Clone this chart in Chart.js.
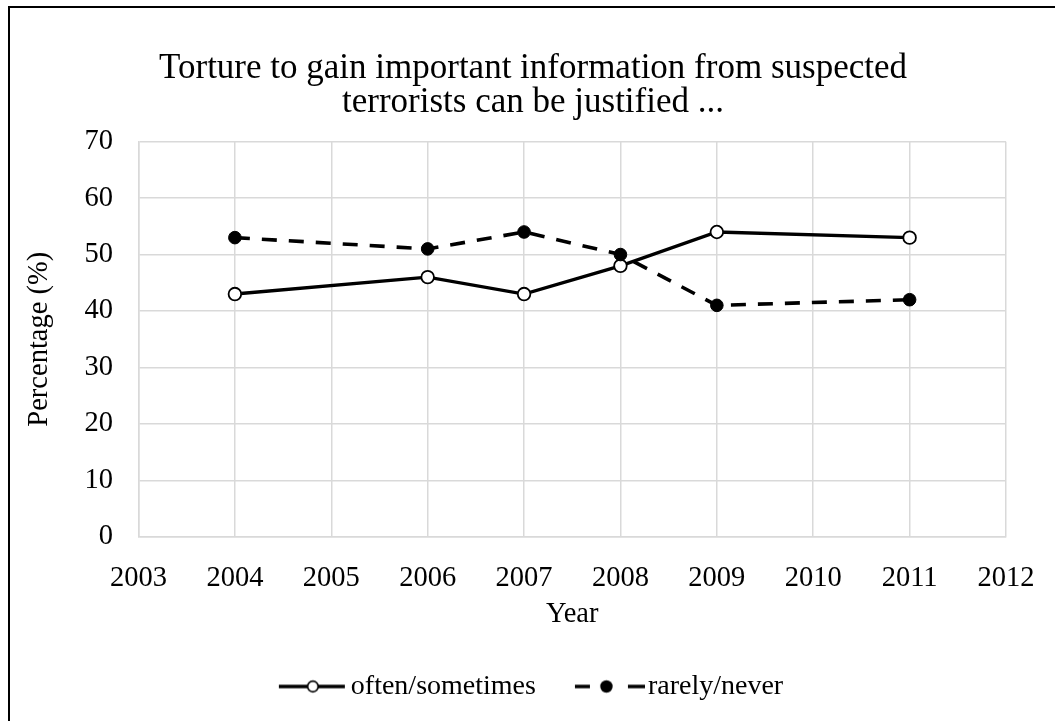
<!DOCTYPE html>
<html>
<head>
<meta charset="utf-8">
<script src="https://cdn.jsdelivr.net/npm/chart.js@4.4.1/dist/chart.umd.min.js"></script>
<style>
  html, body { margin: 0; padding: 0; background: #fff; }
  body { width: 1055px; height: 721px; position: relative; overflow: hidden; }
  #frame { position: absolute; left: 8px; top: 6px; right: -10px; bottom: -10px;
           border-left: 2.5px solid #000; border-top: 2px solid #000; }
  #wrap { position: absolute; left: 10px; top: 8px; width: 1045px; height: 713px; }
</style>
</head>
<body>
<div id="frame"></div>
<div id="wrap"><canvas id="c" width="1045" height="713"></canvas></div>
<script>
// Survey years and the share of answers per category (%)
const years = [2004, 2006, 2007, 2008, 2009, 2011];
const oftenSometimes = [43, 46, 43, 48, 54, 53];
const rarelyNever = [53, 51, 54, 50, 41, 42];

// Axis ticks
const yearTicks = [2003, 2004, 2005, 2006, 2007, 2008, 2009, 2010, 2011, 2012];
const percentTicks = [0, 10, 20, 30, 40, 50, 60, 70];

// Texts
const titleLines = ['Torture to gain important information from suspected', 'terrorists can be justified ...'];
const seriesNames = ['often/sometimes', 'rarely/never'];
const xTitle = 'Year';
const yTitle = 'Percentage (%)';

const SERIF = '"Liberation Serif", "Times New Roman", serif';
const GRID = '#d9d9d9';

// Legend swatches (76 x 20): a line sample with the series marker on it
function solidSwatch() {
  const c = document.createElement('canvas');
  c.width = 76; c.height = 20;
  const g = c.getContext('2d');
  g.strokeStyle = '#000';
  g.lineWidth = 3.4;
  g.beginPath(); g.moveTo(7, 10); g.lineTo(73, 10); g.stroke();
  g.beginPath(); g.arc(41, 10, 5.3, 0, Math.PI * 2);
  g.fillStyle = '#fff'; g.fill();
  g.lineWidth = 1.7; g.stroke();
  return c;
}
function dashedSwatch() {
  const c = document.createElement('canvas');
  c.width = 76; c.height = 20;
  const g = c.getContext('2d');
  g.strokeStyle = '#000';
  g.lineWidth = 3.6;
  g.beginPath();
  g.moveTo(6, 10); g.lineTo(21, 10);
  g.moveTo(59, 10); g.lineTo(76, 10);
  g.stroke();
  g.beginPath(); g.arc(37.5, 10, 6.2, 0, Math.PI * 2);
  g.fillStyle = '#000'; g.fill();
  return c;
}
const swatches = [solidSwatch(), dashedSwatch()];

const toPoints = (xs, ys) => xs.map((x, i) => ({ x: x, y: ys[i] }));

new Chart(document.getElementById('c'), {
  type: 'line',
  data: {
    datasets: [
      {
        label: seriesNames[0],
        data: toPoints(years, oftenSometimes),
        borderColor: '#000',
        borderWidth: 3.4,
        tension: 0,
        pointStyle: 'circle',
        pointRadius: 6.3,
        pointBorderWidth: 1.8,
        pointBackgroundColor: '#fff',
        pointBorderColor: '#000',
        order: 1
      },
      {
        label: seriesNames[1],
        data: toPoints(years, rarelyNever),
        borderColor: '#000',
        borderWidth: 3.6,
        borderDash: [15, 12],
        tension: 0,
        pointStyle: 'circle',
        pointRadius: 6.3,
        pointBorderWidth: 1,
        pointBackgroundColor: '#000',
        pointBorderColor: '#000',
        order: 0
      }
    ]
  },
  options: {
    responsive: false,
    animation: false,
    events: [],
    layout: { padding: { left: 1, right: 0, top: 0, bottom: 10.5 } },
    scales: {
      x: {
        type: 'linear',
        min: yearTicks[0],
        max: yearTicks[yearTicks.length - 1],
        afterBuildTicks: axis => { axis.ticks = yearTicks.map(v => ({ value: v })); },
        afterFit: axis => { axis.height = 91.8; },
        grid: { color: GRID, lineWidth: 1.5, drawTicks: false },
        border: { display: true, color: GRID, width: 1.5 },
        ticks: {
          padding: 13,
          color: '#000',
          maxRotation: 0,
          autoSkip: false,
          font: { family: SERIF, size: 28.5, lineHeight: 2 },
          callback: v => String(v)
        },
        title: {
          display: true,
          text: xTitle,
          color: '#000',
          font: { family: SERIF, size: 28.5, lineHeight: 1.2 },
          padding: { top: 0, bottom: -3 }
        }
      },
      y: {
        type: 'linear',
        min: percentTicks[0],
        max: percentTicks[percentTicks.length - 1],
        afterBuildTicks: axis => { axis.ticks = percentTicks.map(v => ({ value: v })); },
        afterFit: axis => { axis.width = 127.5; },
        grid: { color: GRID, lineWidth: 1.5, drawTicks: false },
        border: { display: true, color: GRID, width: 1.5 },
        ticks: {
          padding: 25.5,
          color: '#000',
          font: { family: SERIF, size: 28.5, lineHeight: 1.2 },
          callback: v => String(v)
        },
        title: {
          display: true,
          text: yTitle,
          color: '#000',
          font: { family: SERIF, size: 28.5, lineHeight: 1.2 },
          padding: { top: 11.6, bottom: 0 }
        }
      },
      // empty right-hand margin beside the plot
      yRight: {
        type: 'linear',
        position: 'right',
        display: true,
        grid: { display: false },
        border: { display: false },
        ticks: { display: false },
        afterFit: axis => { axis.width = 49; }
      }
    },
    plugins: {
      tooltip: { enabled: false },
      title: {
        display: true,
        text: titleLines,
        color: '#000',
        font: { family: SERIF, size: 35, weight: 'normal', lineHeight: '34px' },
        padding: { top: 43.5, bottom: 22.2 }
      },
      legend: {
        display: true,
        position: 'bottom',
        labels: {
          usePointStyle: true,
          pointStyleWidth: 54,
          padding: 44,
          color: '#000',
          font: { family: SERIF, size: 28 },
          generateLabels: chart => chart.data.datasets.map((ds, i) => ({
            text: ds.label,
            pointStyle: swatches[i],
            fillStyle: '#000',
            strokeStyle: '#000',
            lineWidth: 0,
            hidden: false,
            datasetIndex: i,
            fontColor: '#000'
          }))
        }
      }
    }
  }
});
</script>
</body>
</html>
